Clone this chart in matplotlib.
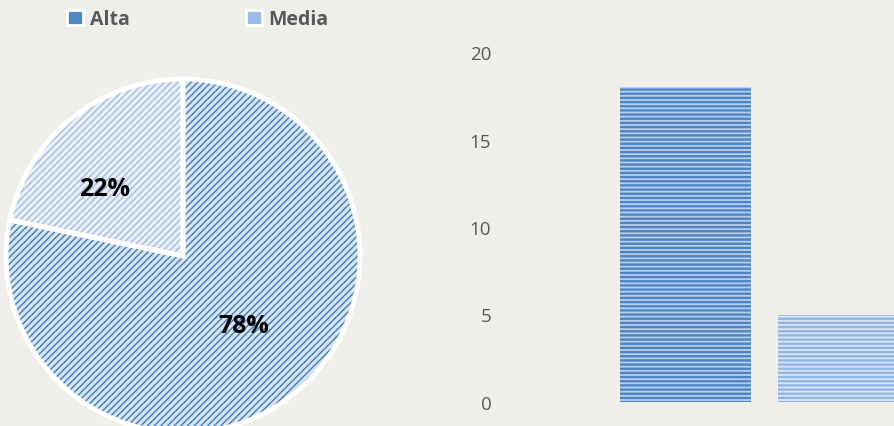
import matplotlib
matplotlib.use('Agg')
import matplotlib.pyplot as plt
from matplotlib.patches import Patch
import numpy as np

# data
categories = ['Alta', 'Media']
counts = [18, 5]
yticks = [0, 5, 10, 15, 20]

# styles (face, hatch colour)
pie_face = ['#d9e5f4', '#e8eff8']
pie_hatch = ['#4a84c4', '#a4c1e7']
bar_face = ['#b8cfeb', '#d9e6f6']
bar_hatch = ['#4d84c2', '#92b5e3']
legend_col = ['#4f86c3', '#9abce6']
bg = '#f0eeea'
text_grey = '#595959'

plt.rcParams['font.family'] = ['Open Sans', 'DejaVu Sans']


def hatch_it(patch, pattern, colour, lw):
    patch.set_hatch(pattern)
    patch.set_edgecolor(colour)
    patch.set_linewidth(0)
    if hasattr(patch, 'set_hatch_linewidth'):
        patch.set_hatch_linewidth(lw)


W, H = 895, 427
fig = plt.figure(figsize=(W / 100, H / 100), dpi=100, facecolor=bg)

# ---------------- pie ----------------
cx, cy, r = 183, 257, 177
pad = 1.03
ax_pie = fig.add_axes([(cx - r * pad) / W, (H - cy - r * pad) / H, 2 * r * pad / W, 2 * r * pad / H])
ax_pie.set_facecolor('none')

plt.rcParams['hatch.linewidth'] = 1.1
ax_pie.pie(counts, startangle=90, counterclock=False, colors=pie_face,
           wedgeprops=dict(linewidth=0))
wedges, _ = ax_pie.pie(counts, startangle=90, counterclock=False,
                       wedgeprops=dict(facecolor='none', linewidth=0))
for w, hc in zip(wedges, pie_hatch):
    hatch_it(w, '/////', hc, 1.1)
ax_pie.pie(counts, startangle=90, counterclock=False,
           wedgeprops=dict(facecolor='none', edgecolor='white', linewidth=3.5))

# percentage labels, placed a bit like Excel does
total = sum(counts)
label_dist = [0.52, 0.585]
label_turn = [2, 10]   # degrees, extra counter-clockwise turn
start = 90.0
for v, d, t in zip(counts, label_dist, label_turn):
    span = 360.0 * v / total
    mid = np.radians(start - span / 2 + t)
    ax_pie.text(d * np.cos(mid), d * np.sin(mid), f'{100 * v / total:.0f}%',
                ha='center', va='center', fontsize=18, fontweight='bold', color='black')
    start -= span
ax_pie.set_xlim(-pad, pad)
ax_pie.set_ylim(-pad, pad)

# legend
handles = [Patch(facecolor=c, edgecolor='white', linewidth=2) for c in legend_col]
fig.legend(handles, categories, ncol=2, loc='center',
           bbox_to_anchor=(198 / W, 1 - 20 / H), frameon=False,
           handlelength=0.8, handleheight=0.8, handletextpad=0.35,
           columnspacing=6.0, prop=dict(size=14, weight='bold'), labelcolor=text_grey)

# ---------------- bars ----------------
unit = 158.0
x0 = 685.5
left_px = 501
y0_px, y20_px = 403, 53
ax_bar = fig.add_axes([left_px / W, (H - y0_px) / H, (W - left_px) / W, (y0_px - y20_px) / H])
ax_bar.set_facecolor('none')
xs = list(range(len(categories)))
plt.rcParams['hatch.linewidth'] = 1.7
bars = ax_bar.bar(xs, counts, width=131 / unit, color=bar_face, linewidth=0)
for b, hc in zip(bars, bar_hatch):
    hatch_it(b, '----', hc, 1.7)
ax_bar.set_xlim(-(x0 - left_px) / unit, (W - x0) / unit)
ax_bar.set_ylim(0, 20)
ax_bar.set_yticks(yticks)
ax_bar.set_xticks([])
ax_bar.tick_params(axis='y', length=0, pad=7, labelsize=13.5, labelcolor=text_grey)
for s in ax_bar.spines.values():
    s.set_visible(False)

fig.savefig('out.png', dpi=100, facecolor=bg)
